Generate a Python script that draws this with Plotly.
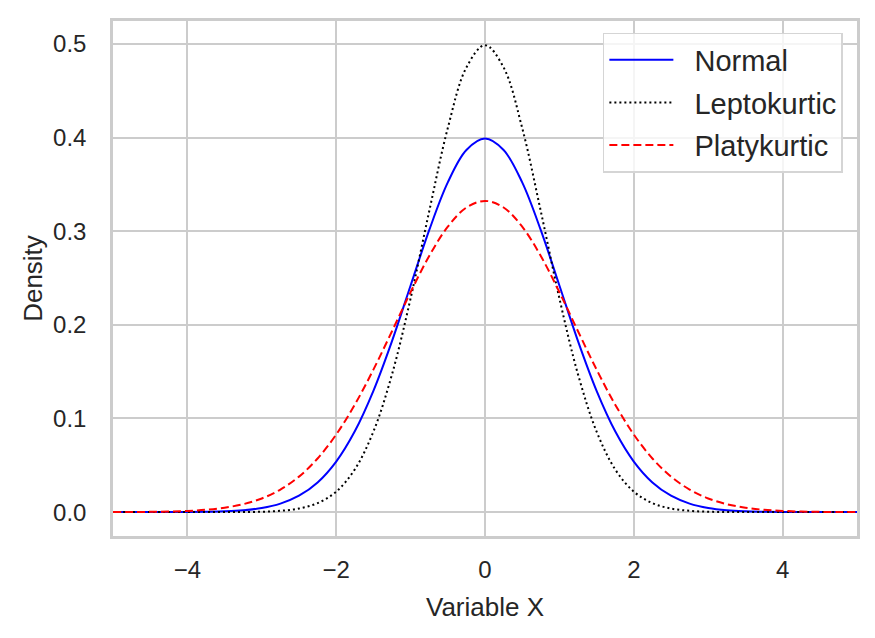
import plotly.graph_objects as go

# values (x step 0.25)
x_vals = [-5.0, -4.75, -4.5, -4.25, -4.0, -3.75, -3.5, -3.25, -3.0, -2.75,
          -2.5, -2.25, -2.0, -1.75, -1.5, -1.25, -1.0, -0.75, -0.5, -0.25,
          0.0, 0.25, 0.5, 0.75, 1.0, 1.25, 1.5, 1.75, 2.0, 2.25,
          2.5, 2.75, 3.0, 3.25, 3.5, 3.75, 4.0, 4.25, 4.5, 4.75, 5.0]

normal = [0.0, 0.0, 0.0, 0.0, 0.0001, 0.0004, 0.0009, 0.0020, 0.0044, 0.0091,
          0.0175, 0.0317, 0.0540, 0.0863, 0.1295, 0.1826, 0.2420, 0.3011, 0.3521, 0.3867,
          0.3989, 0.3867, 0.3521, 0.3011, 0.2420, 0.1826, 0.1295, 0.0863, 0.0540, 0.0317,
          0.0175, 0.0091, 0.0044, 0.0020, 0.0009, 0.0004, 0.0001, 0.0, 0.0, 0.0, 0.0]

lepto = [0.0, 0.0, 0.0, 0.0, 0.0, 0.0, 0.0, 0.0001, 0.0004, 0.0014,
         0.0038, 0.0096, 0.0219, 0.0456, 0.0860, 0.1471, 0.2283, 0.3213, 0.4102, 0.4749,
         0.4987, 0.4749, 0.4102, 0.3213, 0.2283, 0.1471, 0.0860, 0.0456, 0.0219, 0.0096,
         0.0038, 0.0014, 0.0004, 0.0001, 0.0, 0.0, 0.0, 0.0, 0.0, 0.0, 0.0]

platy = [0.0, 0.0001, 0.0003, 0.0006, 0.0013, 0.0025, 0.0047, 0.0085, 0.0146, 0.0241,
         0.0379, 0.0573, 0.0829, 0.1148, 0.1522, 0.1932, 0.2349, 0.2735, 0.3048, 0.3253,
         0.3324, 0.3253, 0.3048, 0.2735, 0.2349, 0.1932, 0.1522, 0.1148, 0.0829, 0.0573,
         0.0379, 0.0241, 0.0146, 0.0085, 0.0047, 0.0025, 0.0013, 0.0006, 0.0003, 0.0001, 0.0]

x_ticks = [-4, -2, 0, 2, 4]
y_ticks = [0.0, 0.1, 0.2, 0.3, 0.4, 0.5]

font = "Liberation Sans, Arial, sans-serif"
grid = "#cccccc"
pad = "\u00a0\u00a0"  # gap between legend line and label

fig = go.Figure()
fig.add_trace(go.Scatter(x=x_vals, y=normal, name=pad + "Normal", mode="lines", legendgroup="a",
                         line=dict(color="blue", width=2, shape="spline")))
fig.add_trace(go.Scatter(x=x_vals, y=lepto, name=pad + "Leptokurtic", mode="lines", legendgroup="b",
                         line=dict(color="black", width=2, dash="2px,3px", shape="spline")))
fig.add_trace(go.Scatter(x=x_vals, y=platy, name=pad + "Platykurtic", mode="lines", legendgroup="c",
                         line=dict(color="red", width=2, dash="8px,4px", shape="spline")))

# page body has an 8px margin, so the figure is shrunk by that much
fig.update_layout(
    width=867, height=630,
    margin=dict(l=105, r=18, t=10, b=102),
    plot_bgcolor="white", paper_bgcolor="white",
    font=dict(family=font, color="#262626"),
    legend=dict(x=0.981, y=0.977, xanchor="right", yanchor="top",
                bgcolor="rgba(255,255,255,0.8)", bordercolor="#d5d5d5", borderwidth=1.5,
                font=dict(size=29, color="#262626"), tracegroupgap=2, itemwidth=64),
)
fig.update_xaxes(range=[-5, 5], tickvals=x_ticks, showgrid=True, gridcolor=grid, gridwidth=1.5,
                 showline=True, linecolor=grid, linewidth=2.5, mirror=True, zeroline=False,
                 ticks="", ticklabelstandoff=10, tickfont=dict(size=24),
                 title=dict(text="Variable X", font=dict(size=26), standoff=17))
fig.update_yaxes(range=[-0.0255, 0.5245], tickvals=y_ticks, tickformat=".1f",
                 showgrid=True, gridcolor=grid, gridwidth=1.5,
                 showline=True, linecolor=grid, linewidth=2.5, mirror=True, zeroline=False,
                 ticks="", ticklabelstandoff=19, tickfont=dict(size=24),
                 title=dict(text="Density", font=dict(size=26), standoff=3))

fig.write_html("out.html")
